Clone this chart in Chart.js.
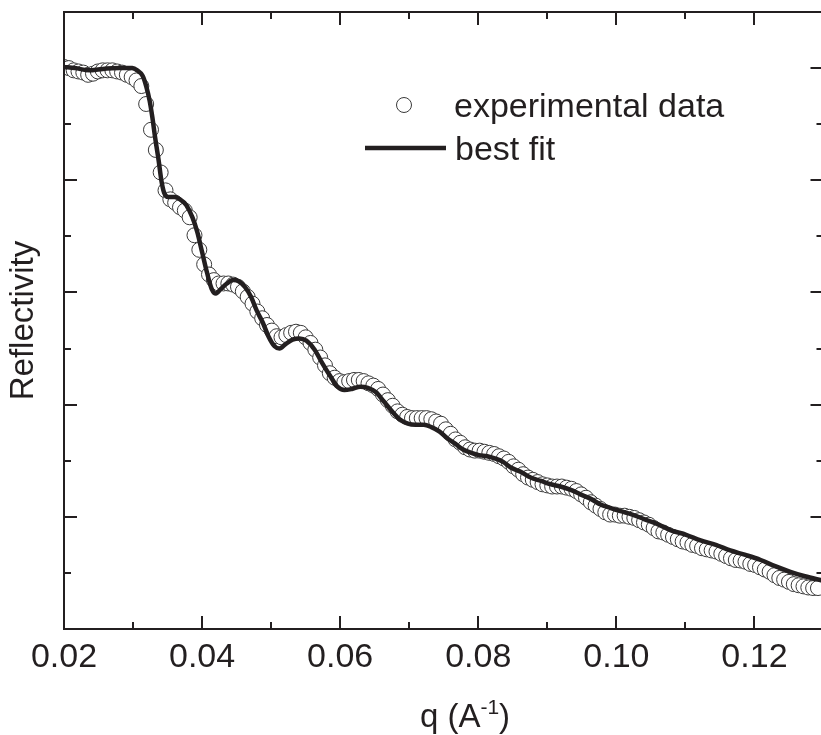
<!DOCTYPE html>
<html>
<head>
<meta charset="utf-8">
<script src="https://cdn.jsdelivr.net/npm/chart.js@4.4.1/dist/chart.umd.min.js"></script>
<style>
  html, body { margin: 0; padding: 0; background: #ffffff; overflow: hidden; }
  #wrap { width: 832px; height: 735px; }
</style>
</head>
<body>
<div id="wrap"><canvas id="c" width="832" height="735"></canvas></div>
<script>
// ---------------- data ----------------
const seriesNames = ["experimental data", "best fit"];
const xTitle = ["q (A", "-1", ")"];
const yTitle = "Reflectivity";

// experimental data: q (1/A) and log reflectivity (arbitrary decades)
const expQ = [
  0.0200,0.0207,0.0214,0.0221,0.0228,0.0235,0.0242,0.0249,0.0256,0.0263,
  0.0270,0.0277,0.0284,0.0291,0.0298,0.0305,0.0312,0.0319,0.0326,0.0333,
  0.0340,0.0347,0.0354,0.0361,0.0368,0.0375,0.0382,0.0389,0.0396,0.0403,
  0.0410,0.0417,0.0424,0.0431,0.0438,0.0445,0.0452,0.0459,0.0466,0.0473,
  0.0480,0.0487,0.0494,0.0501,0.0508,0.0515,0.0522,0.0529,0.0536,0.0543,
  0.0550,0.0557,0.0564,0.0571,0.0578,0.0585,0.0592,0.0599,0.0606,0.0613,
  0.0620,0.0627,0.0634,0.0641,0.0648,0.0655,0.0662,0.0669,0.0676,0.0683,
  0.0690,0.0697,0.0704,0.0711,0.0718,0.0725,0.0732,0.0739,0.0746,0.0753,
  0.0760,0.0767,0.0774,0.0781,0.0788,0.0795,0.0802,0.0809,0.0816,0.0823,
  0.0830,0.0837,0.0844,0.0851,0.0858,0.0865,0.0872,0.0879,0.0886,0.0893,
  0.0900,0.0907,0.0914,0.0921,0.0928,0.0935,0.0942,0.0949,0.0956,0.0963,
  0.0970,0.0977,0.0984,0.0991,0.0998,0.1005,0.1012,0.1019,0.1026,0.1033,
  0.1040,0.1047,0.1054,0.1061,0.1068,0.1075,0.1082,0.1089,0.1096,0.1103,
  0.1110,0.1117,0.1124,0.1131,0.1138,0.1145,0.1152,0.1159,0.1166,0.1173,
  0.1180,0.1187,0.1194,0.1201,0.1208,0.1215,0.1222,0.1229,0.1236,0.1243,
  0.1250,0.1257,0.1264,0.1271,0.1278,0.1285,0.1292
];
const expR = [
  5.01,5.00,4.98,4.97,4.96,4.94,4.95,4.97,4.98,4.98,
  4.98,4.97,4.96,4.94,4.92,4.89,4.84,4.68,4.45,4.27,
  4.07,3.91,3.83,3.80,3.76,3.73,3.67,3.51,3.38,3.25,
  3.16,3.11,3.08,3.08,3.08,3.07,3.05,3.01,2.96,2.90,
  2.83,2.77,2.71,2.66,2.61,2.60,2.62,2.64,2.65,2.64,
  2.60,2.55,2.49,2.42,2.35,2.28,2.24,2.21,2.20,2.21,
  2.22,2.22,2.21,2.19,2.17,2.14,2.09,2.04,1.99,1.94,
  1.91,1.89,1.88,1.88,1.88,1.88,1.87,1.85,1.83,1.78,
  1.74,1.69,1.66,1.62,1.60,1.59,1.59,1.58,1.57,1.56,
  1.54,1.52,1.49,1.45,1.42,1.38,1.35,1.33,1.31,1.29,
  1.28,1.27,1.27,1.27,1.26,1.25,1.23,1.20,1.17,1.13,
  1.10,1.07,1.04,1.02,1.02,1.01,1.01,1.00,0.99,0.97,
  0.95,0.93,0.90,0.87,0.86,0.84,0.82,0.80,0.78,0.77,
  0.75,0.74,0.72,0.71,0.70,0.69,0.67,0.65,0.63,0.615,
  0.61,0.60,0.58,0.57,0.55,0.53,0.51,0.48,0.455,0.44,
  0.42,0.40,0.39,0.38,0.37,0.365,0.365
];

// best fit curve
const fitQ = [
  0.0200,0.0216,0.0237,0.0252,0.0281,0.0299,0.0306,0.0314,0.0319,0.0324,
  0.0328,0.0332,0.0337,0.0341,0.0345,0.0351,0.0360,0.0368,0.0377,0.0386,
  0.0393,0.0400,0.0407,0.0414,0.0420,0.0427,0.0436,0.0445,0.0453,0.0462,
  0.0471,0.0479,0.0488,0.0496,0.0505,0.0512,0.0521,0.0531,0.0541,0.0551,
  0.0563,0.0574,0.0586,0.0596,0.0606,0.0617,0.0629,0.0640,0.0652,0.0663,
  0.0675,0.0686,0.0698,0.0709,0.0721,0.0732,0.0744,0.0755,0.0767,0.0778,
  0.0790,0.0801,0.0813,0.0824,0.0836,0.0847,0.0862,0.0876,0.0891,0.0905,
  0.0919,0.0934,0.0948,0.0963,0.0977,0.0991,0.1006,0.1023,0.1040,0.1058,
  0.1079,0.1101,0.1122,0.1144,0.1165,0.1187,0.1209,0.1230,0.1252,0.1273,
  0.1299
];
const fitR = [
  5.01,5.00,4.98,4.99,5.00,5.00,4.98,4.93,4.84,4.71,
  4.56,4.38,4.18,4.00,3.89,3.85,3.85,3.83,3.78,3.67,
  3.54,3.36,3.18,3.03,2.99,3.03,3.08,3.11,3.10,3.05,
  2.96,2.84,2.73,2.61,2.52,2.50,2.54,2.58,2.59,2.57,
  2.49,2.37,2.25,2.16,2.13,2.14,2.16,2.15,2.11,2.03,
  1.94,1.87,1.83,1.82,1.82,1.80,1.76,1.70,1.65,1.60,
  1.57,1.55,1.54,1.52,1.49,1.44,1.40,1.35,1.32,1.29,
  1.27,1.24,1.20,1.16,1.11,1.08,1.05,1.02,0.98,0.94,
  0.88,0.84,0.79,0.75,0.70,0.66,0.615,0.56,0.51,0.47,
  0.43
];

// axis ranges / tick steps
const xRange = [0.02, 0.13];
const xStep = 0.01;
const yRange = [0, 5.5];
const yStep = 0.5;

// ---------------- styling ----------------
const INK = '#231f20';
const FONT = '"Liberation Sans", Arial, Helvetica, sans-serif';

const expPoints = expQ.map((q, i) => ({x: q, y: expR[i]}));
const fitPoints = fitQ.map((q, i) => ({x: q, y: fitR[i]}));

const isMajorX = v => Math.round(v * 100) % 2 === 0;
const isMajorY = v => Math.abs(v - Math.round(v)) < 1e-6;

const framePlugin = {
  id: 'frame',
  afterDatasetsDraw(chart) {
    const {ctx, chartArea: {left, right, top, bottom}, scales: {x, y}} = chart;
    ctx.save();
    ctx.strokeStyle = INK;
    ctx.lineWidth = 2;
    ctx.lineCap = 'butt';
    ctx.strokeRect(left, top, right - left, bottom - top);
    ctx.beginPath();
    x.ticks.forEach(t => {
      const px = Math.round(x.getPixelForValue(t.value));
      const len = isMajorX(t.value) ? 13 : 7;
      ctx.moveTo(px, bottom); ctx.lineTo(px, bottom - len);
      ctx.moveTo(px, top); ctx.lineTo(px, top + len);
    });
    y.ticks.forEach(t => {
      const py = Math.round(y.getPixelForValue(t.value));
      const len = isMajorY(t.value) ? 13 : 7;
      ctx.moveTo(left, py); ctx.lineTo(left + len, py);
      ctx.moveTo(right, py); ctx.lineTo(right - len, py);
    });
    ctx.stroke();
    ctx.restore();
  },
  afterDraw(chart) {
    const {ctx, chartArea: {left, right, top}} = chart;
    ctx.save();
    // legend
    const lx = left + 340, ly1 = top + 93, ly2 = top + 136;
    ctx.fillStyle = '#ffffff';
    ctx.strokeStyle = '#3a3a3a';
    ctx.lineWidth = 1;
    ctx.beginPath();
    ctx.arc(lx, ly1, 7.5, 0, Math.PI * 2);
    ctx.fill(); ctx.stroke();
    ctx.strokeStyle = INK;
    ctx.lineWidth = 4.5;
    ctx.beginPath();
    ctx.moveTo(left + 301, ly2); ctx.lineTo(left + 382, ly2);
    ctx.stroke();
    ctx.fillStyle = INK;
    ctx.font = '34px ' + FONT;
    ctx.textBaseline = 'alphabetic';
    ctx.textAlign = 'left';
    ctx.fillText(seriesNames[0], left + 390, ly1 + 12);
    ctx.fillText(seriesNames[1], left + 391, ly2 + 12);

    // x title with superscript
    const big = '33px ' + FONT, small = '21px ' + FONT;
    ctx.font = big; const w1 = ctx.measureText(xTitle[0]).width;
    const w3 = ctx.measureText(xTitle[2]).width;
    ctx.font = small; const w2 = ctx.measureText(xTitle[1]).width;
    const total = w1 + w2 + w3;
    const cx = 465, base = 727;
    let sx = cx - total / 2;
    ctx.font = big; ctx.fillText(xTitle[0], sx, base); sx += w1;
    ctx.font = small; ctx.fillText(xTitle[1], sx, base - 13); sx += w2;
    ctx.font = big; ctx.fillText(xTitle[2], sx, base);
    ctx.restore();
  }
};

new Chart(document.getElementById('c'), {
  type: 'scatter',
  data: {
    datasets: [
      {
        label: seriesNames[1],
        data: fitPoints,
        showLine: true,
        borderColor: INK,
        borderWidth: 4.5,
        pointRadius: 0,
        cubicInterpolationMode: 'monotone',
        fill: false,
        order: 1
      },
      {
        label: seriesNames[0],
        data: expPoints,
        showLine: false,
        pointRadius: 7.5,
        pointBackgroundColor: '#ffffff',
        pointBorderColor: '#3a3a3a',
        pointBorderWidth: 1,
        clip: 0,
        order: 2
      }
    ]
  },
  options: {
    responsive: false,
    animation: false,
    devicePixelRatio: 1,
    layout: { padding: { top: 12, right: 4, left: 0, bottom: 0 } },
    plugins: {
      legend: { display: false },
      tooltip: { enabled: false },
      title: { display: false }
    },
    scales: {
      x: {
        type: 'linear',
        position: 'bottom',
        min: xRange[0], max: xRange[1],
        grid: { display: false, drawTicks: false },
        border: { display: false },
        ticks: {
          stepSize: xStep,
          padding: 8,
          color: INK,
          font: { family: FONT, size: 34 },
          maxRotation: 0,
          autoSkip: false,
          callback: v => isMajorX(v) ? v.toFixed(2) : ''
        },
        afterFit: s => { s.height = 106; }
      },
      y: {
        type: 'linear',
        position: 'left',
        min: yRange[0], max: yRange[1],
        grid: { display: false, drawTicks: false },
        border: { display: false },
        ticks: { stepSize: yStep, display: false },
        title: {
          display: true,
          text: yTitle,
          color: INK,
          font: { family: FONT, size: 33 },
          padding: { top: 4, bottom: 0 }
        },
        afterFit: s => { s.width = 64; }
      }
    }
  },
  plugins: [framePlugin]
});
</script>
</body>
</html>
